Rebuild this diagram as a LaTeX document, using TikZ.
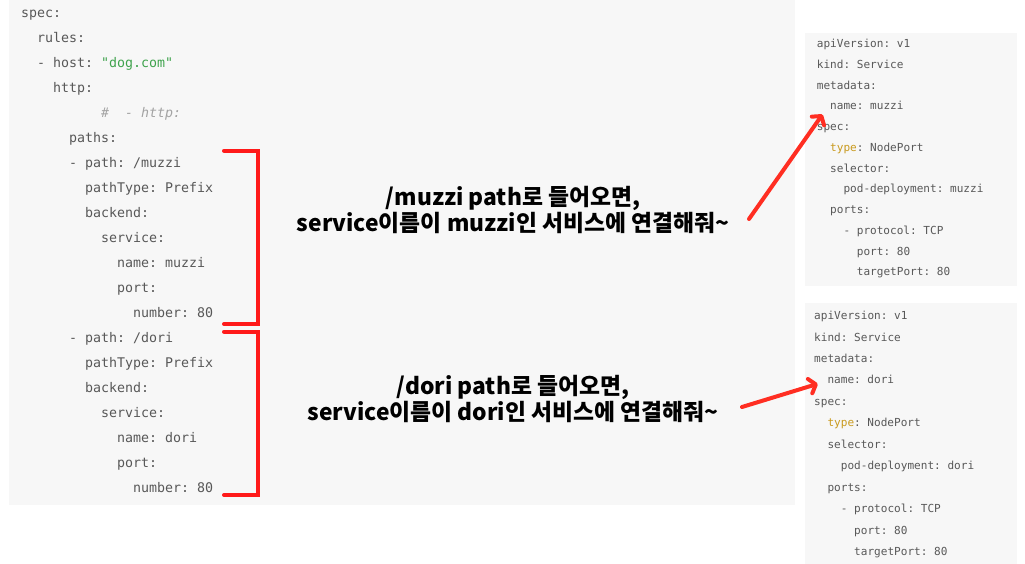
\documentclass[tikz,border=0pt]{standalone}
\usepackage{fontspec}
\setmonofont{DejaVu Sans Mono}
\newfontfamily\krfont{Noto Sans CJK KR}
\usetikzlibrary{arrows.meta}

\definecolor{panel}{HTML}{F7F7F7}
\definecolor{codegray}{HTML}{585858}
\definecolor{commentgray}{HTML}{A3A3A3}
\definecolor{strgreen}{HTML}{3FA34D}
\definecolor{keygold}{HTML}{C99A1E}
\definecolor{markred}{HTML}{FF1A1A}
\definecolor{arrowred}{HTML}{FF2E22}

\begin{document}
\begin{tikzpicture}[x=1pt,y=-1pt,
	code/.style={inner sep=0, anchor=base west, text=codegray, font=\fontsize{13.29}{16}\selectfont\ttfamily},
	svc/.style={inner sep=0, anchor=base west, text height=6pt, text depth=0pt, text=codegray, font=\fontsize{11.07}{13}\selectfont\ttfamily},
	note/.style={inner sep=0, align=center, font=\krfont\bfseries\fontsize{22.8}{26.5}\selectfont},
	bracketline/.style={draw=markred, line width=4pt, line cap=round},
	pointer/.style={draw=arrowred, line width=4pt, line cap=round, -{Straight Barb[length=6pt,width=15pt,round]}}]
		\useasboundingbox (0,0) rectangle (1025,564);
		
		% panels
		\fill[panel] (9,0) rectangle (795,505);
		\fill[panel] (805,33) rectangle (1017,286);
		\fill[panel] (805,303) rectangle (1017,564);
		
		% ingress
		\node[code] (spec) at (21,17.2) {spec:};
		\node[code] (rules) at (37,42.2) {rules:};
		\node[code] (host) at (37,67.2) {- host: \textcolor{strgreen}{"dog.com"}};
		\node[code] (http) at (53,92.2) {http:};
		\node[code, text=commentgray, font=\fontsize{13.29}{16}\selectfont\ttfamily\itshape] (comment) at (101,117.2) {\#\ \ - http:};
		\node[code] (paths) at (69,142.2) {paths:};
		\node[code] (pathA) at (69,167.2) {- path: /muzzi};
		\node[code] (typeA) at (85,192.2) {pathType: Prefix};
		\node[code] (backA) at (85,217.2) {backend:};
		\node[code] (servA) at (101,242.2) {service:};
		\node[code] (nameA) at (117,267.2) {name: muzzi};
		\node[code] (portA) at (117,292.2) {port:};
		\node[code] (numA) at (133,317.2) {number: 80};
		\node[code] (pathB) at (69,342.2) {- path: /dori};
		\node[code] (typeB) at (85,367.2) {pathType: Prefix};
		\node[code] (backB) at (85,392.2) {backend:};
		\node[code] (servB) at (101,417.2) {service:};
		\node[code] (nameB) at (117,442.2) {name: dori};
		\node[code] (portB) at (117,467.2) {port:};
		\node[code] (numB) at (133,492.2) {number: 80};
		
		% service muzzi
		\node[svc] (svcAapi) at (816.7,47.8) {apiVersion: v1};
		\node[svc] (svcAkind) at (816.7,68.5) {kind: Service};
		\node[svc] (svcAmeta) at (816.7,89.3) {metadata:};
		\node[svc] (svcAname) at (830,110.0) {name: muzzi};
		\node[svc] (svcAspec) at (816.7,130.7) {spec:};
		\node[svc] (svcAtype) at (830,151.5) {\textcolor{keygold}{type}: NodePort};
		\node[svc] (svcAsel) at (830,172.2) {selector:};
		\node[svc] (svcApod) at (843.3,192.9) {pod-deployment: muzzi};
		\node[svc] (svcAports) at (830,213.6) {ports:};
		\node[svc] (svcAproto) at (843.3,234.4) {- protocol: TCP};
		\node[svc] (svcAport) at (856.7,255.1) {port: 80};
		\node[svc] (svcAtarget) at (856.7,275.8) {targetPort: 80};
		
		% service dori
		\node[svc] (svcBapi) at (814,319.5) {apiVersion: v1};
		\node[svc] (svcBkind) at (814,341.0) {kind: Service};
		\node[svc] (svcBmeta) at (814,362.4) {metadata:};
		\node[svc] (svcBname) at (827.3,383.9) {name: dori};
		\node[svc] (svcBspec) at (814,405.3) {spec:};
		\node[svc] (svcBtype) at (827.3,426.8) {\textcolor{keygold}{type}: NodePort};
		\node[svc] (svcBsel) at (827.3,448.2) {selector:};
		\node[svc] (svcBpod) at (840.7,469.7) {pod-deployment: dori};
		\node[svc] (svcBports) at (827.3,491.1) {ports:};
		\node[svc] (svcBproto) at (840.7,512.6) {- protocol: TCP};
		\node[svc] (svcBport) at (854,534.0) {port: 80};
		\node[svc] (svcBtarget) at (854,555.5) {targetPort: 80};
		
		% notes
		\node[note] (noteA) at (513,210) {/muzzi path로 들어오면,\\service이름이 muzzi인 서비스에 연결해줘\textasciitilde};
		\node[note] (noteB) at (513,399) {/dori path로 들어오면,\\service이름이 dori인 서비스에 연결해줘\textasciitilde};
		
		% brackets
		\draw[bracketline] (224,150.7) -| (258,324) -- (224,324);
		\draw[bracketline] (224,331.7) -| (258,495) -- (224,495);
		
		% arrows
		\coordinate (tailA) at (749,219);
		\coordinate (tailB) at (742,407);
		\draw[pointer, shorten >=13pt] (tailA) -- (svcAname.north west);
		\draw[pointer, shorten >=10pt] (tailB) -- (svcBname.west);
	\end{tikzpicture}
\end{document}
